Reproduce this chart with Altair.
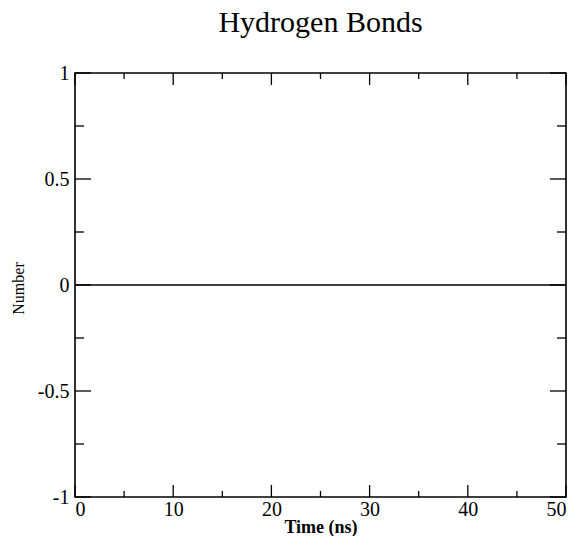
import altair as alt
import pandas as pd

# Data
time_ns = [0, 5, 10, 15, 20, 25, 30, 35, 40, 45, 50]
number = [0, 0, 0, 0, 0, 0, 0, 0, 0, 0, 0]

x_major = [0, 10, 20, 30, 40, 50]
x_minor = [5, 15, 25, 35, 45]
y_major = [-1, -0.5, 0, 0.5, 1]
y_minor = [-0.75, -0.25, 0.25, 0.75]

W, H = 491, 424
FONT = "Liberation Serif"

df = pd.DataFrame({"t": time_ns, "n": number})
xs = alt.Scale(domain=[0, 50], nice=False, zero=False)
ys = alt.Scale(domain=[-1, 1], nice=False, zero=False)

line = alt.Chart(df).mark_line(color="black", strokeWidth=1.3).encode(
    x=alt.X("t:Q", scale=xs, title="Time (ns)",
            axis=alt.Axis(values=x_major, ticks=False, tickSize=0, domain=False, grid=False,
                          labelFont=FONT, labelFontSize=20, labelColor="black", labelPadding=2,
                          labelExpr="'' + datum.value",
                          titleFont=FONT, titleFontSize=18, titleFontWeight="bold", titleColor="black",
                          titleX=W / 2, titleY=30, titleBaseline="middle")),
    y=alt.Y("n:Q", scale=ys, title="Number",
            axis=alt.Axis(values=y_major, ticks=False, tickSize=0, domain=False, grid=False,
                          labelFont=FONT, labelFontSize=20, labelColor="black", labelPadding=6,
                          labelExpr="'' + datum.value",
                          titleFont=FONT, titleFontSize=16, titleFontWeight="normal", titleColor="black",
                          titleX=-57, titleY=215, titleBaseline="middle", titleAngle=-90)),
)


def xticks(vals, y0, y1):
    d = pd.DataFrame({"v": vals})
    return alt.Chart(d).mark_rule(color="black", strokeWidth=1.3).encode(
        x=alt.X("v:Q", scale=xs), y=alt.value(y0), y2=alt.value(y1))


def yticks(vals, x0, x1):
    d = pd.DataFrame({"v": vals})
    return alt.Chart(d).mark_rule(color="black", strokeWidth=1.3).encode(
        y=alt.Y("v:Q", scale=ys), x=alt.value(x0), x2=alt.value(x1))


layers = [
    line,
    xticks(x_major, H, H - 12), xticks(x_minor, H, H - 6),
    xticks(x_major, 0, 12), xticks(x_minor, 0, 6),
    yticks(y_major, 0, 16), yticks(y_minor, 0, 9),
    yticks(y_major, W, W - 16), yticks(y_minor, W, W - 9),
]

chart = alt.layer(*layers).properties(
    width=W, height=H,
    title=alt.Title("Hydrogen Bonds", font=FONT, fontSize=30, fontWeight="normal",
                    color="black", anchor="middle", offset=25),
    autosize=alt.AutoSizeParams(type="none"),
    padding={"left": 75, "top": 73, "right": 15, "bottom": 39},
    background="white",
).configure_view(stroke="black", strokeWidth=1.6)

chart.save("out.html", embed_options={"renderer": "svg", "actions": False})
